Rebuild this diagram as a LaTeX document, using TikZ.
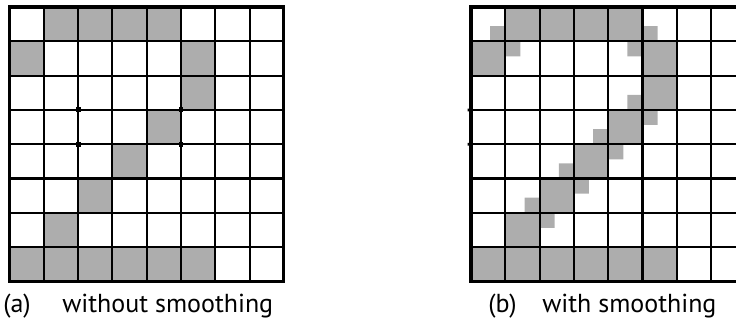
\documentclass[tikz,border=0pt]{standalone}
\usepackage{fontspec}
\setmainfont{PT Sans}
\usepackage{tikz}

\begin{document}
\begin{tikzpicture}[x=0.75pt,y=-0.75pt]
\useasboundingbox (0,0) rectangle (736,320);
\clip (0,0) rectangle (736,320);
\tikzset{stipple/.style={fill=black!32},
  gridline/.style={black,line width=1.6pt},
  frame/.style={black,line width=2.3pt},
  caption/.style={anchor=base west,inner sep=0pt,font=\fontsize{19.5}{21}\selectfont}}
% (a) without smoothing
\begin{scope}[shift={(9.5,7)},x=25.725pt,y=-25.725pt]
\fill[stipple] (1,0) rectangle (5,1) (0,1) rectangle (1,2) (5,1) rectangle (6,2)
  (5,2) rectangle (6,3) (4,3) rectangle (5,4) (3,4) rectangle (4,5)
  (2,5) rectangle (3,6) (1,6) rectangle (2,7) (0,7) rectangle (6,8);
\foreach \i in {1,...,7} {
  \draw[gridline] (\i,0) -- (\i,8);
  \draw[gridline] (0,\i) -- (8,\i);
}
\draw[frame] (0,0) rectangle (8,8);
\foreach \p in {(2,3),(2,4),(5,3),(5,4)}
  \fill \p +(-0.07,-0.07) rectangle +(0.07,0.07);
\end{scope}
% (b) with smoothing
\begin{scope}[shift={(471,7)},x=25.725pt,y=-25.725pt]
\fill[stipple] (1,0) rectangle (5,1) (0,1) rectangle (1,2) (5,1) rectangle (6,2)
  (5,2) rectangle (6,3) (4,3) rectangle (5,4) (3,4) rectangle (4,5)
  (2,5) rectangle (3,6) (1,6) rectangle (2,7) (0,7) rectangle (6,8);
\fill[stipple] (0.56,0.56) rectangle (1,1) (5,0.56) rectangle (5.44,1)
  (1,1) rectangle (1.44,1.44) (4.56,1) rectangle (5,1.44)
  (4.56,2.56) rectangle (5,3) (5,3) rectangle (5.44,3.44)
  (3.56,3.56) rectangle (4,4) (4,4) rectangle (4.44,4.44)
  (2.56,4.56) rectangle (3,5) (3,5) rectangle (3.44,5.44)
  (1.56,5.56) rectangle (2,6) (2,6) rectangle (2.44,6.44);
\foreach \i in {1,...,7} {
  \draw[gridline] (\i,0) -- (\i,8);
  \draw[gridline] (0,\i) -- (8,\i);
}
\draw[frame] (0,0) rectangle (8,8);
\fill (-0.1,2.96) rectangle (0,3.04) (-0.1,3.96) rectangle (0,4.04);
\end{scope}
\node[caption] (tagA) at (3,313) {(a)};
\node[caption] (capA) at (62,313) {without smoothing};
\node[caption] (tagB) at (488,313) {(b)};
\node[caption] (capB) at (542,313) {with smoothing};
\end{tikzpicture}
\end{document}
